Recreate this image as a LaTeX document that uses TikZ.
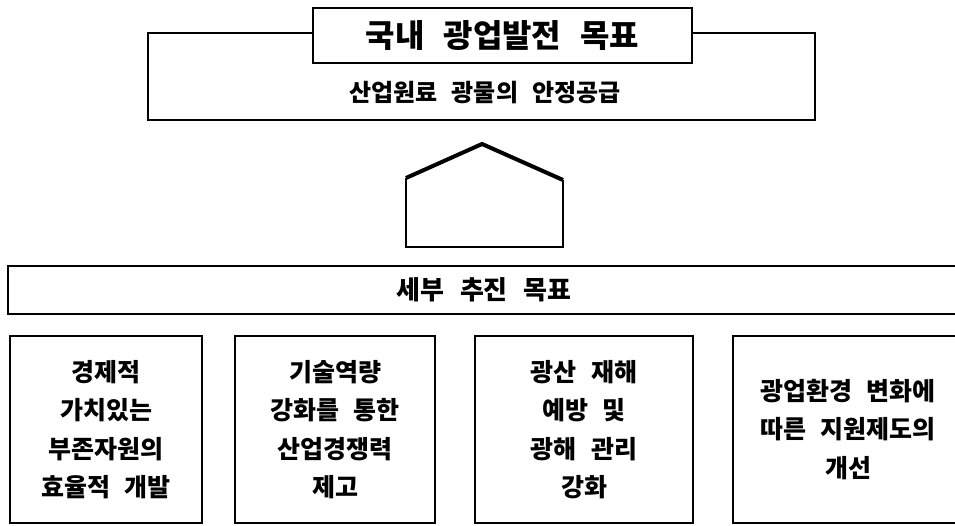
\documentclass[tikz,border=0pt]{standalone}
\usepackage{fontspec}
\newfontfamily\kr[WordSpace=2.6,BoldFont={Noto Sans CJK KR Black}]{Noto Sans CJK KR}
\begin{document}
\begin{tikzpicture}[x=1pt,y=-1pt,
  frame/.style={draw=black,line width=1.1pt,fill=white,inner sep=0pt},
  boxtxt/.style={align=center,font=\kr\bfseries\fontsize{25}{38.5}\selectfont},
  roof/.style={line width=4pt,line join=miter,line cap=butt},
  wall/.style={line width=1.1pt}]
\useasboundingbox (0,0) rectangle (955,526);
% top group
\node[frame,minimum width=667pt,minimum height=87pt] (outer) at (481.5,76.5) {};
\node[frame,minimum width=379pt,minimum height=55pt,font=\kr\bfseries\fontsize{32}{36}\selectfont] (title) at (502.5,35.5) {국내 광업발전 목표};
\node[font=\kr\bfseries\fontsize{24}{28}\selectfont] (sub) at (485,93) {산업원료 광물의 안정공급};
% house arrow
\coordinate (hbl) at (406,247);
\coordinate (hl) at (406,178);
\coordinate (hp) at (482,144);
\coordinate (hr) at (563,180);
\coordinate (hbr) at (563,247);
\draw[wall] (hl) -- (hbl) -- (hbr) -- (hr);
\draw[roof] (hl) -- (hp) -- (hr);
% detailed goals
\node[frame,minimum width=952pt,minimum height=48pt,font=\kr\bfseries\fontsize{26}{30}\selectfont] (detail) at (484,290) {세부 추진 목표};
\node[frame,boxtxt,minimum width=192pt,minimum height=187pt] (b1) at (106,429.5) {경제적\\가치있는\\부존자원의\\효율적 개발};
\node[frame,boxtxt,minimum width=200pt,minimum height=187pt] (b2) at (335,429.5) {기술역량\\강화를 통한\\산업경쟁력\\제고};
\node[frame,boxtxt,minimum width=218pt,minimum height=187pt] (b3) at (584,429.5) {광산 재해\\예방 및\\광해 관리\\강화};
\node[frame,boxtxt,minimum width=230pt,minimum height=187pt] (b4) at (848,429.5) {광업환경 변화에\\따른 지원제도의\\개선};
\end{tikzpicture}
\end{document}
